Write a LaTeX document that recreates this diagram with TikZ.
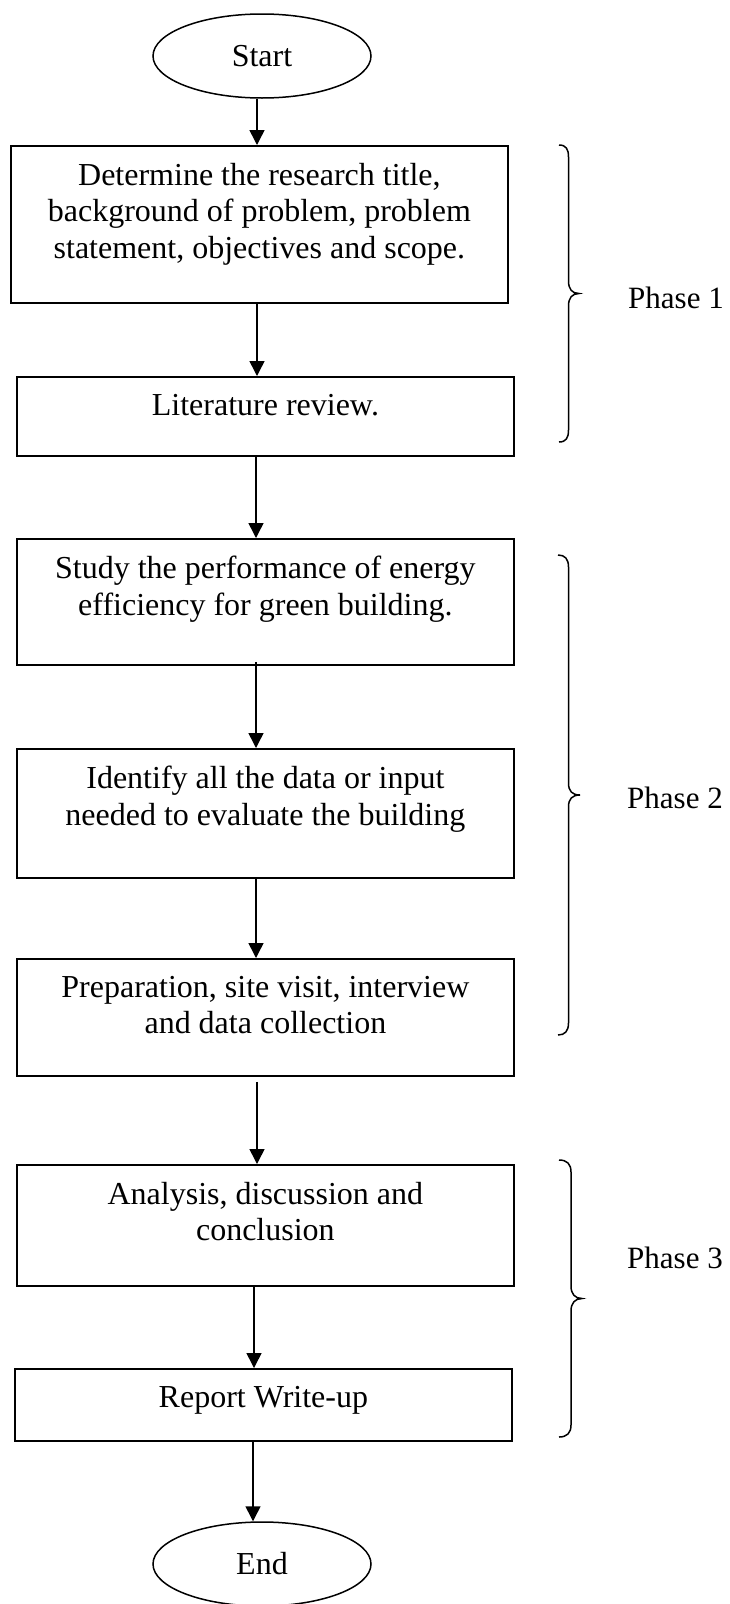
\documentclass[tikz,border=0pt]{standalone}
\usepackage{fontspec}
\setmainfont{Liberation Serif}
\usetikzlibrary{arrows.meta,shapes.geometric,calc}
\begin{document}
\begin{tikzpicture}[x=1pt,y=-1pt,
  boxnode/.style={draw, line width=1.8pt, rectangle, inner sep=0pt, anchor=north west},
  txt/.style={font=\fontsize{32}{36.3}\selectfont, align=center, anchor=north, inner sep=0pt},
  term/.style={draw, line width=1.5pt, ellipse, inner sep=0pt, minimum width=218pt, minimum height=84pt, font=\fontsize{32}{36.3}\selectfont},
  arr/.style={line width=1.5pt, -{Triangle[width=15pt,length=15pt]}},
  bracepath/.style={line width=1.5pt},
  phase/.style={font=\fontsize{31}{36}\selectfont, anchor=west, inner sep=0pt}
]
\useasboundingbox (0,0) rectangle (730,1604);

% terminals
\node[term] (start) at (262,56) {Start};
\node[term] (end) at (262,1564) {End};

% boxes
\node[boxnode, minimum width=497pt, minimum height=157pt] (b1) at (10,145) {};
\node[boxnode, minimum width=497pt, minimum height=79pt]  (b2) at (16,376) {};
\node[boxnode, minimum width=497pt, minimum height=126pt] (b3) at (16,538) {};
\node[boxnode, minimum width=497pt, minimum height=129pt] (b4) at (16,748) {};
\node[boxnode, minimum width=497pt, minimum height=117pt] (b5) at (16,958) {};
\node[boxnode, minimum width=497pt, minimum height=121pt] (b6) at (16,1164) {};
\node[boxnode, minimum width=497pt, minimum height=72pt]  (b7) at (14,1368) {};

% texts
\node[txt] (t1) at ([yshift=-18pt]b1.north) {Determine the research title,\\background of problem, problem\\statement, objectives and scope.};
\node[txt] (t2) at ([yshift=-18pt]b2.north) {Literature review.};
\node[txt] (t3) at ([yshift=-18pt]b3.north) {Study the performance of energy\\efficiency for green building.};
\node[txt] (t4) at ([yshift=-18pt]b4.north) {Identify all the data or input\\needed to evaluate the building};
\node[txt] (t5) at ([yshift=-18pt]b5.north) {Preparation, site visit, interview\\and data collection};
\node[txt] (t6) at ([yshift=-18pt]b6.north) {Analysis, discussion and\\conclusion};
\node[txt] (t7) at ([yshift=-18pt]b7.north) {Report Write-up};

% arrow x positions
\coordinate (x1) at (257,0);
\coordinate (x2) at (257,0);
\coordinate (x3) at (256,0);
\coordinate (x4) at (256,0);
\coordinate (x5) at (256,0);
\coordinate (x6) at (257,0);
\coordinate (x7) at (254,0);
\coordinate (x8) at (253,0);

\draw[arr] (start.south -| x1) -- (b1.north -| x1);
\draw[arr] (b1.south -| x2) -- (b2.north -| x2);
\draw[arr] (b2.south -| x3) -- (b3.north -| x3);
\draw[arr] ($(b3.south -| x4)+(0,-4)$) -- (b4.north -| x4);
\draw[arr] (b4.south -| x5) -- (b5.north -| x5);
\draw[arr] ($(b5.south -| x6)+(0,5)$) -- (b6.north -| x6);
\draw[arr] (b6.south -| x7) -- (b7.north -| x7);
\draw[arr] (b7.south -| x8) -- (end.north -| x8);

% braces
\draw[bracepath] (559,145) .. controls (566,145) and (568.5,149) .. (568.5,157)
  -- (568.5,281) .. controls (568.5,289) and (572,293.5) .. (579,293.5)
  .. controls (572,293.5) and (568.5,298) .. (568.5,306)
  -- (568.5,430) .. controls (568.5,438) and (566,442) .. (559,442);
\draw[bracepath] (558,555) .. controls (565,555) and (568.5,559) .. (568.5,567)
  -- (568.5,783) .. controls (568.5,791) and (572,795) .. (580,795)
  .. controls (572,795) and (568.5,799) .. (568.5,807)
  -- (568.5,1023) .. controls (568.5,1031) and (565,1035) .. (558,1035);
\draw[bracepath] (559,1160) .. controls (567,1160) and (571,1164) .. (571,1172)
  -- (571,1286) .. controls (571,1294) and (575,1298.5) .. (582,1298.5)
  .. controls (575,1298.5) and (571,1303) .. (571,1311)
  -- (571,1425) .. controls (571,1433) and (567,1437) .. (559,1437);

% phase labels
\node[phase] (p1) at (628,298) {Phase 1};
\node[phase] (p2) at (627,798) {Phase 2};
\node[phase] (p3) at (627,1258) {Phase 3};
\end{tikzpicture}
\end{document}
